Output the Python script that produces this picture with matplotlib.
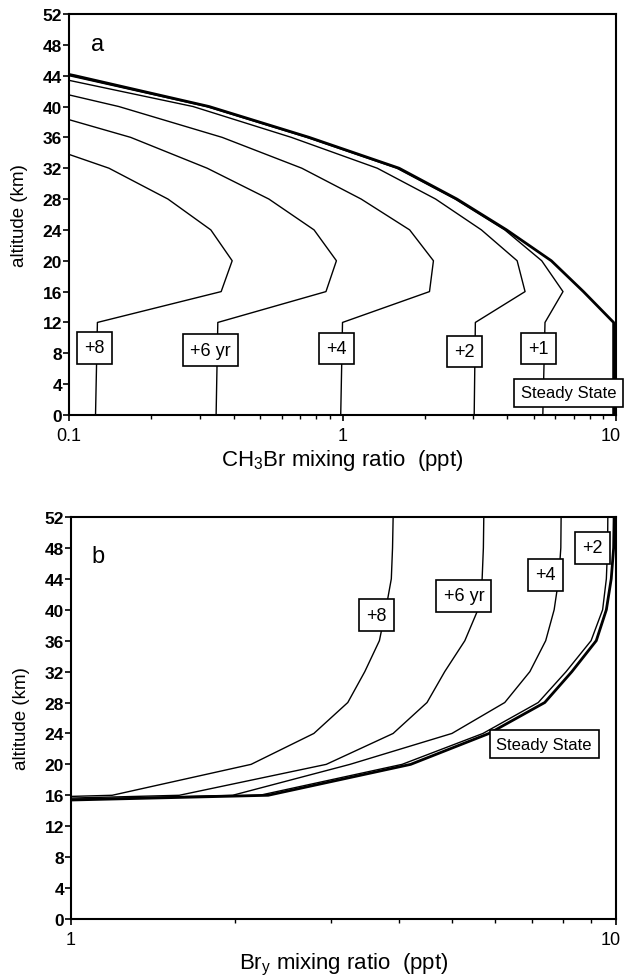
import matplotlib
matplotlib.use("Agg")
import matplotlib.pyplot as plt
from matplotlib.ticker import LogLocator, FixedLocator, NullFormatter, FixedFormatter
from matplotlib.transforms import ScaledTranslation

plt.rcParams['font.family'] = ['Liberation Sans', 'DejaVu Sans']
plt.rcParams['mathtext.fontset'] = 'custom'
plt.rcParams['mathtext.rm'] = 'Liberation Sans'
plt.rcParams['mathtext.it'] = 'Liberation Sans:italic'
plt.rcParams['mathtext.default'] = 'regular'

# panel a: CH3Br profiles (ppt) vs altitude (km)
alt_a = [0, 12, 16, 20, 24, 28, 32, 36, 40, 44, 48]
ch3br_steady = [9.8, 9.8, 7.6, 5.8, 3.98, 2.62, 1.61, 0.755, 0.325, 0.105, 0.03]
ch3br_p1 = [5.4, 5.5, 6.4, 5.35, 3.92, 2.58, 1.58, 0.74, 0.318, 0.1, 0.028]
ch3br_p2 = [3.03, 3.06, 4.65, 4.35, 3.22, 2.19, 1.34, 0.65, 0.284, 0.083, 0.02]
ch3br_p4 = [0.985, 1.0, 2.08, 2.15, 1.76, 1.17, 0.71, 0.363, 0.152, 0.05, 0.01]
ch3br_p6 = [0.345, 0.35, 0.87, 0.95, 0.787, 0.538, 0.32, 0.168, 0.068, 0.02, 0.005]
ch3br_p8 = [0.125, 0.127, 0.36, 0.395, 0.33, 0.23, 0.14, 0.066, 0.02, 0.005, 0.001]

# panel b: Bry profiles (ppt) vs altitude (km)
alt_b = [12, 16, 20, 24, 28, 32, 36, 40, 44, 48, 52]
bry_steady = [0.01, 2.3, 4.2, 5.85, 7.4, 8.3, 9.2, 9.6, 9.8, 9.9, 9.92]
bry_p2 = [0.01, 2.22, 4.05, 5.7, 7.2, 8.1, 9.0, 9.45, 9.6, 9.65, 9.66]
bry_p4 = [0.01, 1.98, 3.25, 5.0, 6.25, 6.95, 7.43, 7.7, 7.85, 7.92, 7.93]
bry_p6 = [0.01, 1.58, 2.94, 3.9, 4.5, 4.85, 5.28, 5.58, 5.68, 5.71, 5.72]
bry_p8 = [0.01, 1.19, 2.14, 2.79, 3.22, 3.46, 3.68, 3.78, 3.87, 3.89, 3.9]

# curve labels: (text, x, altitude)
labels_a = [("+8", 0.124, 8.7), ("+6 yr", 0.329, 8.4), ("+4", 0.947, 8.6),
            ("+2", 2.8, 8.2), ("+1", 5.21, 8.6), ("Steady State", 6.7, 2.85)]
labels_b = [("+8", 3.64, 39.3), ("+6 yr", 5.26, 41.8), ("+4", 7.42, 44.5),
            ("+2", 9.06, 48.0), ("Steady State", 7.38, 22.6)]

yticks = list(range(0, 53, 4))

fig = plt.figure(figsize=(6.24, 9.79), dpi=100)
ax_a = fig.add_axes([0.1106, 0.5751, 0.8766, 0.4096])
ax_b = fig.add_axes([0.1138, 0.0603, 0.8734, 0.4106])

box = dict(boxstyle="square,pad=0.4", fc="white", ec="black", lw=1.2)


def style(ax, xlim, xticks, xticklabels):
    ax.set_xscale("log")
    ax.set_xlim(*xlim)
    ax.set_ylim(0, 52)
    ax.set_yticks(yticks)
    ax.set_yticklabels([str(t) for t in yticks], fontsize=12.5, fontweight="bold")
    ax.xaxis.set_major_locator(FixedLocator(xticks))
    ax.xaxis.set_major_formatter(FixedFormatter(xticklabels))
    ax.xaxis.set_minor_locator(LogLocator(base=10, subs=range(2, 10)))
    ax.xaxis.set_minor_formatter(NullFormatter())
    ax.tick_params(axis="y", direction="out", length=4, width=1.2, pad=1)
    ax.tick_params(axis="x", which="major", direction="out", length=4, width=1.2,
                   pad=5, labelsize=13)
    ax.tick_params(axis="x", which="minor", direction="out", length=3, width=1.0)
    for s in ax.spines.values():
        s.set_linewidth(1.5)
    ax.set_ylabel("altitude (km)", fontsize=13.5)
    ax.yaxis.set_label_coords(-0.075, 0.5)
    # keep the right-hand "10" inside the figure
    fig.canvas.draw()
    last = ax.get_xticklabels()[-1]
    last.set_transform(last.get_transform() + ScaledTranslation(-4 / 72, 0, fig.dpi_scale_trans))


# panel a
for vals in [ch3br_p8, ch3br_p6, ch3br_p4, ch3br_p2, ch3br_p1]:
    ax_a.plot(vals, alt_a, color="black", lw=1.0, zorder=2)
ax_a.plot(ch3br_steady, alt_a, color="black", lw=2.0, zorder=2)
for txt, x, y in labels_a:
    fs = 12 if txt == "Steady State" else 13
    ax_a.text(x, y, txt, ha="center", va="center", fontsize=fs, bbox=box, zorder=5)
ax_a.text(0.127, 48.1, "a", fontsize=17, ha="center", va="center")
style(ax_a, (0.1, 10), [0.1, 1, 10], ["0.1", "1", "10"])
ax_a.set_xlabel("CH$_3$Br mixing ratio  (ppt)", fontsize=16, labelpad=2)

# panel b
for vals in [bry_p8, bry_p6, bry_p4, bry_p2]:
    ax_b.plot(vals, alt_b, color="black", lw=1.0, zorder=2)
ax_b.plot(bry_steady, alt_b, color="black", lw=2.0, zorder=2)
for txt, x, y in labels_b:
    fs = 12 if txt == "Steady State" else 13
    ax_b.text(x, y, txt, ha="center", va="center", fontsize=fs, bbox=box, zorder=5)
ax_b.text(1.12, 47.0, "b", fontsize=17, ha="center", va="center")
style(ax_b, (1, 10), [1, 10], ["1", "10"])
ax_b.set_xlabel("Br$_y$ mixing ratio  (ppt)", fontsize=16, labelpad=2)

fig.savefig("out.png", dpi=100)
